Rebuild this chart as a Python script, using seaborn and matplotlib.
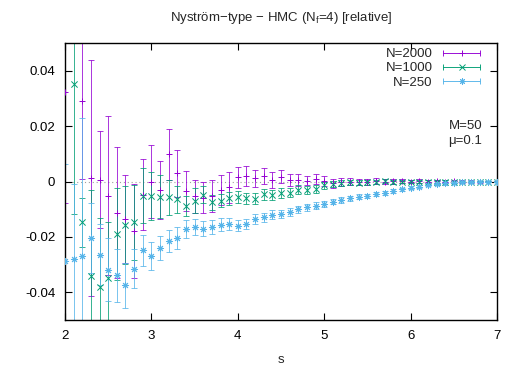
import numpy as np
import pandas as pd
import matplotlib
matplotlib.use('Agg')
import matplotlib.pyplot as plt
import seaborn as sns
from matplotlib.lines import Line2D
from matplotlib.legend_handler import HandlerLine2D, HandlerTuple

nan = np.nan

s = [2.0, 2.1, 2.2, 2.3, 2.4, 2.5, 2.6, 2.7, 2.8, 2.9,
     3.0, 3.1, 3.2, 3.3, 3.4, 3.5, 3.6, 3.7, 3.8, 3.9,
     4.0, 4.1, 4.2, 4.3, 4.4, 4.5, 4.6, 4.7, 4.8, 4.9,
     5.0, 5.1, 5.2, 5.3, 5.4, 5.5, 5.6, 5.7, 5.8, 5.9,
     6.0, 6.1, 6.2, 6.3, 6.4, 6.5, 6.6, 6.7, 6.8, 6.9, 7.0]

# N=2000
rel_2000 = [0.0323, nan, 0.0290, 0.0013, 0.0007, -0.0051, -0.0112, -0.0135, -0.0180, -0.0047,
            0.0000, -0.0031, 0.0098, 0.0030, -0.0033, -0.0053, -0.0058, -0.0052, -0.0031, -0.0021,
            0.0015, 0.0020, 0.0011, 0.0020, 0.0005, 0.0017, 0.0005, 0.0005, 0.0003, 0.0009,
            0.0002, -0.0007, -0.0003, -0.0001, -0.0002, -0.0001, 0.0002, 0.0000, 0.0001, 0.0002,
            0.0000, 0.0001, -0.0001, 0.0001, 0.0000, 0.0001, 0.0000, 0.0000, -0.0001, 0.0000, 0.0000]
err_2000 = [0.0400, nan, 0.0280, 0.0427, 0.0175, 0.0287, 0.0235, 0.0160, 0.0170, 0.0128,
            0.0133, 0.0105, 0.0093, 0.0085, 0.0072, 0.0060, 0.0057, 0.0057, 0.0054, 0.0057,
            0.0039, 0.0037, 0.0030, 0.0028, 0.0028, 0.0024, 0.0022, 0.0021, 0.0017, 0.0018,
            0.0017, 0.0015, 0.0014, 0.0013, 0.0012, 0.0011, 0.0010, 0.0009, 0.0009, 0.0008,
            0.0007, 0.0007, 0.0006, 0.0006, 0.0005, 0.0005, 0.0004, 0.0004, 0.0003, 0.0003, 0.0002]

# N=1000
rel_1000 = [nan, 0.0353, -0.0148, -0.0340, -0.0381, -0.0348, -0.0189, -0.0157, -0.0148, -0.0052,
            -0.0051, -0.0055, -0.0057, -0.0064, -0.0088, -0.0069, -0.0047, -0.0075, -0.0069, -0.0061,
            -0.0055, -0.0061, -0.0063, -0.0046, -0.0047, -0.0041, -0.0040, -0.0029, -0.0031, -0.0026,
            -0.0014, -0.0009, -0.0005, -0.0003, -0.0004, -0.0003, -0.0001, 0.0001, -0.0001, 0.0000,
            -0.0001, 0.0000, -0.0001, 0.0000, 0.0000, -0.0001, 0.0000, 0.0000, 0.0000, 0.0000, 0.0000]
err_1000 = [nan, 0.0470, 0.0090, 0.0310, 0.0250, 0.0200, 0.0166, 0.0140, 0.0135, 0.0099,
            0.0087, 0.0078, 0.0063, 0.0048, 0.0035, 0.0045, 0.0030, 0.0028, 0.0024, 0.0023,
            0.0022, 0.0021, 0.0020, 0.0019, 0.0018, 0.0017, 0.0016, 0.0016, 0.0015, 0.0014,
            0.0013, 0.0012, 0.0011, 0.0010, 0.0010, 0.0009, 0.0008, 0.0008, 0.0007, 0.0007,
            0.0006, 0.0006, 0.0005, 0.0005, 0.0004, 0.0004, 0.0003, 0.0003, 0.0003, 0.0002, 0.0002]

# N=250
rel_250 = [-0.0286, -0.0279, -0.0270, -0.0204, -0.0264, -0.0318, -0.0339, -0.0375, -0.0315, -0.0249,
           -0.0270, -0.0240, -0.0216, -0.0204, -0.0172, -0.0165, -0.0170, -0.0165, -0.0156, -0.0153,
           -0.0159, -0.0153, -0.0136, -0.0129, -0.0120, -0.0118, -0.0109, -0.0101, -0.0093, -0.0087,
           -0.0081, -0.0073, -0.0067, -0.0060, -0.0055, -0.0052, -0.0046, -0.0041, -0.0034, -0.0028,
           -0.0022, -0.0019, -0.0013, -0.0010, -0.0007, -0.0004, -0.0002, -0.0001, 0.0000, 0.0000, 0.0000]
err_250 = [0.0350, 0.0270, 0.0500, 0.0125, 0.0110, 0.0114, 0.0095, 0.0080, 0.0070, 0.0055,
           0.0050, 0.0045, 0.0040, 0.0038, 0.0032, 0.0028, 0.0026, 0.0025, 0.0023, 0.0021,
           0.0020, 0.0019, 0.0018, 0.0017, 0.0016, 0.0015, 0.0014, 0.0013, 0.0012, 0.0012,
           0.0011, 0.0010, 0.0010, 0.0009, 0.0009, 0.0008, 0.0008, 0.0007, 0.0007, 0.0006,
           0.0006, 0.0005, 0.0005, 0.0004, 0.0004, 0.0003, 0.0003, 0.0003, 0.0002, 0.0002, 0.0002]

labels = ['N=2000', 'N=1000', 'N=250']
colors = ['#9400d3', '#009e73', '#56b4e9']
markers = ['+', 'x', (8, 2, 0)]

sns.set_style('ticks')
plt.rcParams['font.family'] = ['Liberation Sans', 'DejaVu Sans']
plt.rcParams['mathtext.fontset'] = 'custom'
plt.rcParams['mathtext.rm'] = 'Liberation Sans'
plt.rcParams['axes.unicode_minus'] = False

fig = plt.figure(figsize=(5.25, 3.67), dpi=100)
ax = fig.add_axes([65/525, 1 - 320/367, 432/525, 277/367])

ax.axhline(0, color='#a0a0a0', lw=0.8, ls=(0, (1, 2.5)), zorder=0)

handles = []
hmap = {}
for lab, y, e, c, m in zip(labels, [rel_2000, rel_1000, rel_250],
                           [err_2000, err_1000, err_250], colors, markers):
    df = pd.DataFrame({'s': s, 'rel': y, 'err': e}).dropna()
    ax.errorbar(df['s'], df['rel'], yerr=df['err'], fmt='none', ecolor=c,
                elinewidth=0.65, capsize=2.5, capthick=0.65, alpha=0.85)
    sns.scatterplot(data=df, x='s', y='rel', marker=m, color=c, s=20,
                    linewidth=0.7, ax=ax, legend=False, zorder=3)
    caps = Line2D([], [], color=c, lw=0.65, marker='|', markersize=5, markeredgewidth=0.65)
    mid = Line2D([], [], color=c, lw=0, marker=m, markersize=4.5, markeredgewidth=0.7)
    hmap[caps] = HandlerLine2D(numpoints=2)
    hmap[mid] = HandlerLine2D(numpoints=1)
    handles.append((caps, mid))

hmap[tuple] = HandlerTuple(ndivide=1, pad=0)
ax.legend(handles, labels, handler_map=hmap, loc='upper right',
          bbox_to_anchor=(484/525, 1 - 48/367), bbox_transform=fig.transFigure,
          frameon=False, markerfirst=False, fontsize=9.5, handlelength=3.4,
          handletextpad=0.5, labelspacing=0.15, borderpad=0, borderaxespad=0)

ax.set_xlim(2, 7)
ax.set_ylim(-0.05, 0.05)
ax.set_xticks([2, 3, 4, 5, 6, 7])
ax.set_yticks([-0.04, -0.02, 0, 0.02, 0.04])
ax.set_yticklabels(['-0.04', '-0.02', '0', '0.02', '0.04'])
ax.tick_params(direction='in', top=True, right=True, length=5, width=0.8,
               labelsize=9.5, pad=7, colors='black')
for sp in ax.spines.values():
    sp.set_linewidth(1.0)
    sp.set_color('black')
ax.set_xlabel('s', fontsize=9.5, labelpad=9)
ax.set_ylabel('')

fig.text(281/525, 1 - 18/367, 'Nyström−type − HMC (N$_\\mathrm{f}$=4) [relative]',
         ha='center', va='center', fontsize=9.5)
fig.text(482/525, 1 - 126/367, 'M=50', ha='right', va='center', fontsize=9.5)
fig.text(482/525, 1 - 141/367, 'μ=0.1', ha='right', va='center', fontsize=9.5)

fig.savefig('out.png', dpi=100)
